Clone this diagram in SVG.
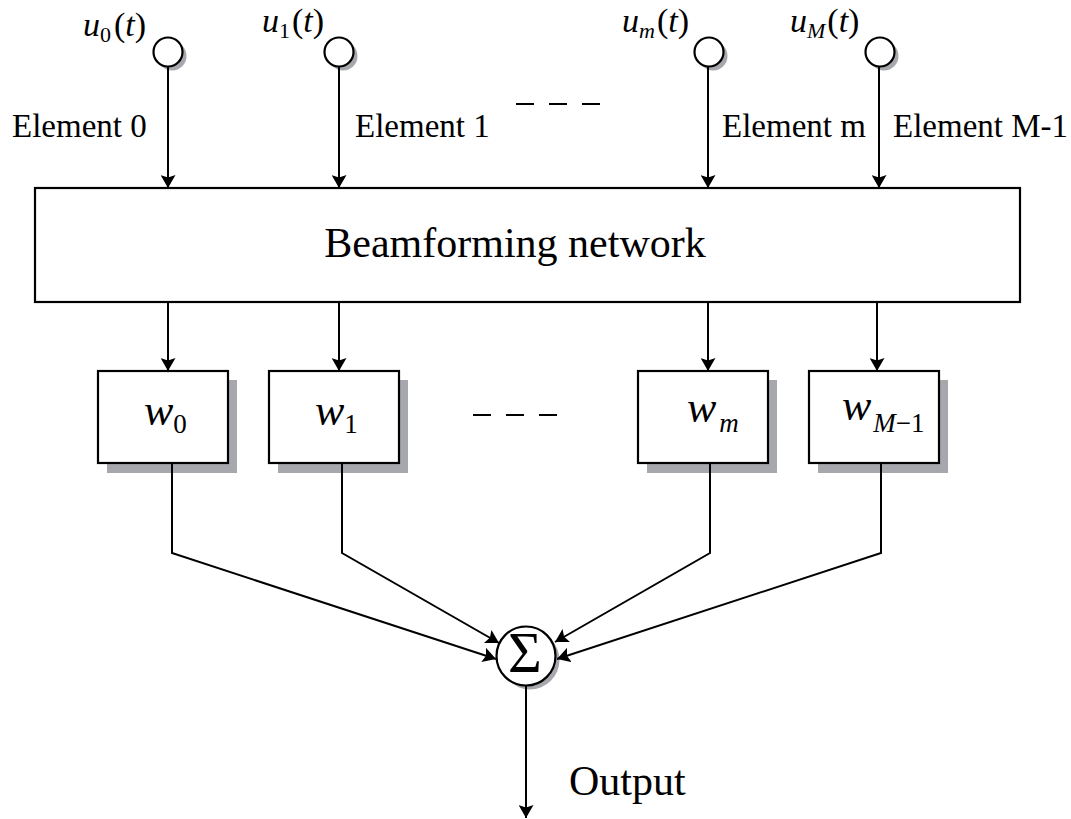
<svg xmlns="http://www.w3.org/2000/svg" width="1071" height="819" viewBox="0 0 1071 819">
  <style>
    .ln { stroke: #000; stroke-width: 2; fill: none; }
    .box { fill: #fff; stroke: #000; stroke-width: 2.2; }
    .sh { fill: #a6a8ad; }
    .t { font-family: "Liberation Serif", "Times New Roman", serif; fill: #000; }
    .el { font-size: 33px; }
    .u { font-size: 34px; }
    .w { font-size: 44px; }
    .it { font-style: italic; }
  </style>
  <defs>
    <marker id="arr" viewBox="0 0 13 15" refX="13" refY="7.5" markerWidth="13" markerHeight="15" markerUnits="userSpaceOnUse" orient="auto">
      <path d="M0,0 L13,7.5 L0,15 L2.5,7.5 Z" fill="#000"/>
    </marker>
  </defs>

  <!-- input antenna elements -->
  <g id="elem0">
    <circle cx="172" cy="56" r="14.5" class="sh"/>
    <circle cx="168" cy="52" r="14.5" class="box"/>
    <text x="83" y="36" class="t u"><tspan class="it">u</tspan><tspan font-size="22" dy="6">0</tspan><tspan dy="-6" dx="3">(</tspan><tspan class="it">t</tspan>)</text>
    <text x="12" y="137" class="t el">Element 0</text>
  </g>
  <g id="elem1">
    <circle cx="343" cy="56" r="14.5" class="sh"/>
    <circle cx="339" cy="52" r="14.5" class="box"/>
    <text x="262" y="32" class="t u"><tspan class="it">u</tspan><tspan font-size="22" dy="6">1</tspan><tspan dy="-6" dx="2">(</tspan><tspan class="it">t</tspan>)</text>
    <text x="355" y="137" class="t el">Element 1</text>
  </g>
  <g id="elemm">
    <circle cx="713" cy="56" r="14.5" class="sh"/>
    <circle cx="709" cy="52" r="14.5" class="box"/>
    <text x="622" y="32" class="t u"><tspan class="it">u</tspan><tspan class="it" font-size="22" dy="6">m</tspan><tspan dy="-6" dx="2">(</tspan><tspan class="it">t</tspan>)</text>
    <text x="722" y="137" class="t el">Element m</text>
  </g>
  <g id="elemM">
    <circle cx="884" cy="56" r="14.5" class="sh"/>
    <circle cx="880" cy="52" r="14.5" class="box"/>
    <text x="790" y="32" class="t u"><tspan class="it">u</tspan><tspan class="it" font-size="22" dy="6">M</tspan><tspan dy="-6" dx="2">(</tspan><tspan class="it">t</tspan>)</text>
    <text x="893" y="137" class="t el">Element M-1</text>
  </g>

  <!-- beamforming network -->
  <g id="bfn">
    <rect x="35" y="188" width="985" height="114" class="box"/>
    <text x="515" y="257" text-anchor="middle" class="t" font-size="42">Beamforming network</text>
  </g>

  <!-- weights -->
  <g id="w0">
    <rect x="107" y="380" width="130" height="93" class="sh"/>
    <rect x="98" y="371" width="130" height="92" class="box"/>
    <text x="144" y="425" class="t w"><tspan class="it">w</tspan><tspan font-size="27" dy="8">0</tspan></text>
  </g>
  <g id="w1">
    <rect x="278" y="380" width="130" height="93" class="sh"/>
    <rect x="269" y="371" width="130" height="92" class="box"/>
    <text x="315" y="425" class="t w"><tspan class="it">w</tspan><tspan font-size="27" dy="8">1</tspan></text>
  </g>
  <g id="wm">
    <rect x="647" y="380" width="130" height="93" class="sh"/>
    <rect x="638" y="371" width="130" height="92" class="box"/>
    <text x="687" y="422" class="t w"><tspan class="it">w</tspan><tspan class="it" font-size="27" dy="10" dx="3">m</tspan></text>
  </g>
  <g id="wM">
    <rect x="818" y="380" width="130" height="93" class="sh"/>
    <rect x="809" y="371" width="130" height="92" class="box"/>
    <text x="842" y="420" class="t w"><tspan class="it">w</tspan><tspan class="it" font-size="27" dy="12" dx="2">M</tspan><tspan font-size="27">−1</tspan></text>
  </g>

  <!-- summing node -->
  <g id="sum">
    <circle cx="530" cy="660" r="29.5" class="sh"/>
    <circle cx="526" cy="656" r="29.5" class="box"/>
    <text x="525" y="672" text-anchor="middle" class="t" font-size="58">Σ</text>
  </g>

  <g id="outlabel">
    <text x="569" y="795" class="t" font-size="42">Output</text>
  </g>

  <!-- ellipsis dashes -->
  <g id="dots" class="ln" stroke-width="3">
    <line x1="516" y1="104" x2="601" y2="104" stroke-dasharray="18,15"/>
    <line x1="473" y1="415" x2="557" y2="415" stroke-dasharray="18,15"/>
  </g>

  <!-- connectors -->
  <g id="connectors" class="ln">
    <line x1="168" y1="67" x2="168" y2="188" marker-end="url(#arr)"/>
    <line x1="339" y1="67" x2="339" y2="188" marker-end="url(#arr)"/>
    <line x1="708" y1="67" x2="708" y2="188" marker-end="url(#arr)"/>
    <line x1="879" y1="67" x2="879" y2="188" marker-end="url(#arr)"/>

    <line x1="168" y1="302" x2="168" y2="371" marker-end="url(#arr)"/>
    <line x1="339" y1="302" x2="339" y2="371" marker-end="url(#arr)"/>
    <line x1="708" y1="302" x2="708" y2="371" marker-end="url(#arr)"/>
    <line x1="877" y1="302" x2="877" y2="371" marker-end="url(#arr)"/>

    <polyline points="172,463 172,553 496,659" marker-end="url(#arr)"/>
    <polyline points="342,463 342,553 499,643" marker-end="url(#arr)"/>
    <polyline points="710,463 710,553 555,642" marker-end="url(#arr)"/>
    <polyline points="881,463 881,553 557,659" marker-end="url(#arr)"/>

    <line x1="526" y1="686" x2="526" y2="818" marker-end="url(#arr)"/>
  </g>
</svg>
